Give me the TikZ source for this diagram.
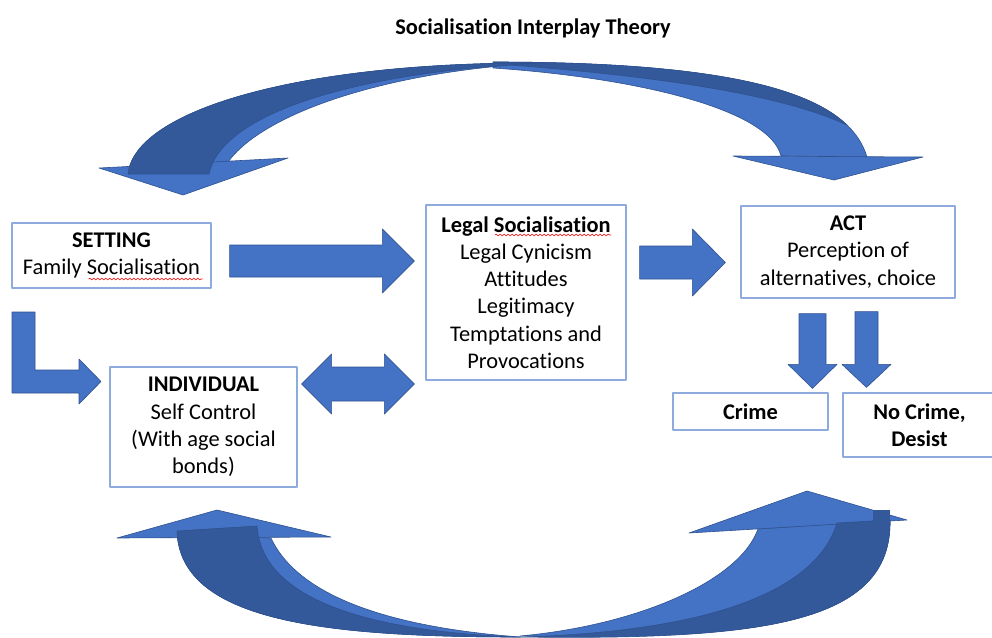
\documentclass[tikz,border=0pt]{standalone}
\usepackage{fontspec}
\setmainfont{Carlito}[Ligatures={NoCommon,NoContextual}]
\usetikzlibrary{calc,decorations.pathmorphing}
\definecolor{arrowfill}{RGB}{68,114,196}
\definecolor{arrowdark}{RGB}{51,89,154}
\definecolor{arrowedge}{RGB}{47,82,143}
\definecolor{boxline}{RGB}{143,170,220}
\tikzset{
  box/.style={draw=boxline, line width=0.6pt, fill=white, align=center, inner sep=0pt},
  blockfill/.style={fill=arrowfill, draw=arrowedge, line width=0.3pt},
  darkfill/.style={fill=arrowdark, draw=arrowedge, line width=0.3pt},
  wavy/.style={red, line width=0.3pt, decorate, decoration={snake, amplitude=0.45pt, segment length=2pt}},
  blockarrow/.style n args={3}{blockfill, to path={
    ($(\tikztostart)!#1!90:(\tikztotarget)$)
    -- ($($(\tikztotarget)!#3!(\tikztostart)$)!#1!90:(\tikztotarget)$)
    -- ($($(\tikztotarget)!#3!(\tikztostart)$)!#2!90:(\tikztotarget)$)
    -- (\tikztotarget)
    -- ($($(\tikztotarget)!#3!(\tikztostart)$)!#2!-90:(\tikztotarget)$)
    -- ($($(\tikztotarget)!#3!(\tikztostart)$)!#1!-90:(\tikztotarget)$)
    -- ($(\tikztostart)!#1!-90:(\tikztotarget)$) -- cycle}},
  doublearrow/.style n args={3}{blockfill, to path={
    (\tikztostart)
    -- ($($(\tikztostart)!#3!(\tikztotarget)$)!#2!90:(\tikztotarget)$)
    -- ($($(\tikztostart)!#3!(\tikztotarget)$)!#1!90:(\tikztotarget)$)
    -- ($($(\tikztotarget)!#3!(\tikztostart)$)!#1!90:(\tikztotarget)$)
    -- ($($(\tikztotarget)!#3!(\tikztostart)$)!#2!90:(\tikztotarget)$)
    -- (\tikztotarget)
    -- ($($(\tikztotarget)!#3!(\tikztostart)$)!#2!-90:(\tikztotarget)$)
    -- ($($(\tikztotarget)!#3!(\tikztostart)$)!#1!-90:(\tikztotarget)$)
    -- ($($(\tikztostart)!#3!(\tikztotarget)$)!#1!-90:(\tikztotarget)$)
    -- ($($(\tikztostart)!#3!(\tikztotarget)$)!#2!-90:(\tikztotarget)$)
    -- cycle}},
}
\begin{document}
\begin{tikzpicture}[x=0.5pt, y=-0.5pt, line join=round, font=\fontsize{11.2}{13.65}\selectfont]
  \useasboundingbox (0,0) rectangle (992,638);
  \node[font=\fontsize{11.2}{13.65}\selectfont\bfseries] (title) at (533,28) {Socialisation Interplay Theory};
  % boxes
  \node[box, minimum width=99.5pt, minimum height=32.5pt] (setting) at (111.5,255.5) {\textbf{SETTING}\\Family Socialisation};
  \node[box, minimum width=93.5pt, minimum height=60pt] (individual) at (203.5,427) {\textbf{INDIVIDUAL}\\Self Control\\(With age social\\bonds)};
  \node[box, minimum width=100pt, minimum height=87.5pt] (legal) at (526,292.5) {\textbf{Legal Socialisation}\\Legal Cynicism\\Attitudes\\Legitimacy\\Temptations and\\Provocations};
  \node[box, minimum width=107pt, minimum height=46pt] (act) at (848,252) {\textbf{ACT}\\Perception of\\alternatives, choice};
  \node[box, minimum width=77.5pt, minimum height=18.5pt] (crime) at (750.5,411.5) {\textbf{Crime}};
  \node[box, minimum width=76.5pt, minimum height=32pt] (nocrime) at (919.5,425) {\textbf{No Crime,}\\\textbf{Desist}};
  \draw[wavy] ($(setting.center)+(-23,23.5)$) -- ($(setting.center)+(91,23.5)$);
  \draw[wavy] ($(legal.center)+(-31,-57.5)$) -- ($(legal.center)+(85,-57.5)$);
  % block arrows
  \coordinate (a1) at ($(setting.east)+(18,5.5)$);
  \coordinate (a2) at ($(legal.west)+(-11,-31.5)$);
  \coordinate (b1) at ($(legal.east)+(13,-30)$);
  \coordinate (b2) at ($(act.west)+(-15,10.5)$);
  \coordinate (c1) at ($(individual.east)+(4,-43)$);
  \coordinate (c2) at ($(legal.west)+(-11,91.5)$);
  \coordinate (d1) at ($(act.south)+(-35.5,15)$);
  \coordinate (d2) at ($(crime.north)+(62,-4)$);
  \coordinate (e1) at ($(act.south)+(18.5,13)$);
  \coordinate (e2) at ($(nocrime.north)+(-53,-5)$);
  \draw[blockarrow={8pt}{16pt}{16pt}] (a1) to (a2);
  \draw[blockarrow={8.25pt}{16.75pt}{16.5pt}] (b1) to (b2);
  \draw[doublearrow={8.5pt}{15pt}{15pt}] (c1) to (c2);
  \draw[blockarrow={6.75pt}{12.25pt}{12pt}] (d1) to (d2);
  \draw[blockarrow={5.75pt}{12.25pt}{11.5pt}] (e1) to (e2);
  \draw[blockfill] (12,312)--(35,312)--(35,370)--(79,370)--(79,359)--(101,381.5)--(79,404)--(79,393)--(12,393)--cycle;
  % curved arrows, top
  \draw[blockfill] (493,62) .. controls (760,62) and (850,100) .. (867,157) -- (781,156) .. controls (770,110) and (640,78) .. (493,68) -- cycle;
  \draw[blockfill] (733,156)--(923,157)--(834,180)--cycle;
  \draw[darkfill] (493,62) .. controls (706.6,62) and (806.9,86.3) .. (847.2,125.2) .. controls (790,98) and (680,78) .. (510,65) -- cycle;
  \draw[blockfill] (128,174) .. controls (135,110) and (300,62) .. (540,63) .. controls (380,72) and (262,115) .. (228,162) -- cycle;
  \draw[blockfill] (99,168)--(288,158)--(183,195)--cycle;
  \draw[darkfill] (128,174) .. controls (135,110) and (300,62) .. (540,63) .. controls (360,72) and (222,112) .. (209,174) -- cycle;
  % curved arrows, bottom
  \draw[blockfill] (758,529) .. controls (740,580) and (640,625) .. (520,636) .. controls (760,640) and (892,625) .. (890,520) -- cycle;
  \draw[blockfill] (689,533)--(807,491)--(907,520)--cycle;
  \draw[darkfill] (837,523) .. controls (815,595) and (700,632) .. (520,637) .. controls (760,640) and (892,625) .. (890,520) -- cycle;
  \fill[arrowdark] (873,510) rectangle (890,521);
  \draw[blockfill] (177,531) .. controls (180,620) and (320,637) .. (520,637) .. controls (400,628) and (300,600) .. (271,538) -- cycle;
  \draw[blockfill] (117,538)--(217,510)--(331,537)--cycle;
  \draw[darkfill] (177,531) .. controls (180,620) and (320,637) .. (520,637) .. controls (370,632) and (262,600) .. (257,526) -- cycle;
\end{tikzpicture}
\end{document}
